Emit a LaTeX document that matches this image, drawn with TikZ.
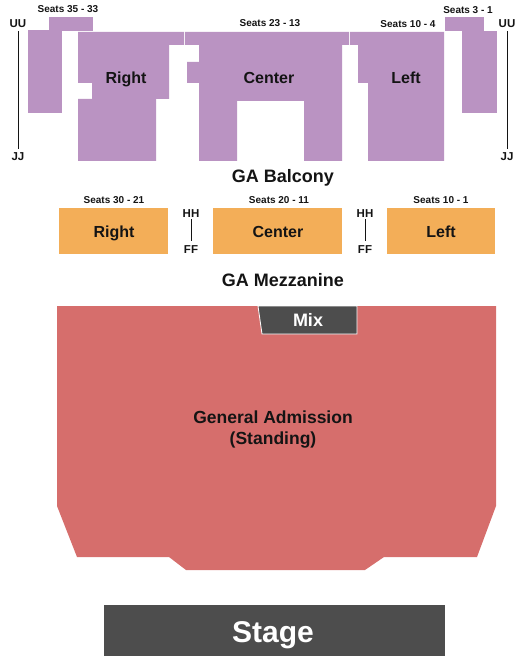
\documentclass[tikz,border=0pt]{standalone}
\usepackage{fontspec}
\setmainfont{Liberation Sans}
\definecolor{balc}{RGB}{186,147,194}
\definecolor{mezz}{RGB}{243,174,88}
\definecolor{ga}{RGB}{214,110,108}
\definecolor{dark}{RGB}{77,77,77}
\definecolor{ink}{RGB}{20,20,20}
\tikzset{
  balcsec/.style={fill=balc,draw=none},
  mezzsec/.style={fill=mezz,draw=none},
  gasec/.style={fill=ga,draw=none},
  darksec/.style={fill=dark,draw=none},
  seatlbl/.style={anchor=base,inner sep=0pt,font=\bfseries\fontsize{10}{12}\selectfont,text=ink},
  rowlbl/.style={anchor=base,inner sep=0pt,font=\bfseries\fontsize{11.5}{13}\selectfont,text=ink},
  seclbl/.style={anchor=base,inner sep=0pt,font=\bfseries\fontsize{16}{19}\selectfont,text=ink},
  arealbl/.style={anchor=base,inner sep=0pt,font=\bfseries\fontsize{18}{21}\selectfont,text=ink},
  rowline/.style={draw=ink,line width=0.7pt},
}
\begin{document}
\begin{tikzpicture}[x=1pt,y=-1pt]
\useasboundingbox (0,0) rectangle (525,668);

% ---------- Balcony ----------
\path[balcsec] (49,17) rectangle (93,31);
\path[balcsec] (28,30) rectangle (62,113);
\path[balcsec] (78,32) -- (184,32) -- (184,45) -- (169,45) -- (169,99) -- (156,99)
  -- (156,161) -- (78,161) -- (78,99) -- (92,99) -- (92,83) -- (78,83) -- cycle;
\path[balcsec] (185,32) -- (349,32) -- (349,45) -- (342,45) -- (342,161) -- (304,161)
  -- (304,101) -- (237,101) -- (237,161) -- (199,161) -- (199,83) -- (187,83)
  -- (187,62) -- (199,62) -- (199,45) -- (185,45) -- cycle;
\path[balcsec] (350,32) -- (444,32) -- (444,161) -- (368,161) -- (368,83) -- (358,83)
  -- (358,45) -- (350,45) -- cycle;
\path[balcsec] (445,17) rectangle (484,31);
\path[balcsec] (462,31) rectangle (497,113);

\node[seatlbl] (s3533) at (68,12.7) {Seats 35 - 33};
\node[seatlbl] (s2313) at (270,26.7) {Seats 23 - 13};
\node[seatlbl] (s104) at (408,27.3) {Seats 10 - 4};
\node[seatlbl] (s31) at (468,13.3) {Seats 3 - 1};

\node[seclbl] (bright) at (126,83.3) {Right};
\node[seclbl] (bcenter) at (269,83.3) {Center};
\node[seclbl] (bleft) at (406,83.3) {Left};

\node[rowlbl] (uuL) at (18,28) {UU};
\node[rowlbl] (jjL) at (18,161) {JJ};
\node[rowlbl] (uuR) at (507,28) {UU};
\node[rowlbl] (jjR) at (507,161) {JJ};
\draw[rowline] ([yshift=-3pt]uuL.south) -- ([yshift=4pt]jjL.north);
\draw[rowline] ([yshift=-3pt]uuR.south) -- ([yshift=4pt]jjR.north);

\node[arealbl] (gabalc) at (283,182.7) {GA Balcony};

% ---------- Mezzanine ----------
\path[mezzsec] (59,208) rectangle (168,254);
\path[mezzsec] (213,208) rectangle (342,254);
\path[mezzsec] (387,208) rectangle (495,254);

\node[seatlbl] (s3021) at (114,203.3) {Seats 30 - 21};
\node[seatlbl] (s2011) at (279,203.3) {Seats 20 - 11};
\node[seatlbl] (s101) at (441,203.3) {Seats 10 - 1};

\node[seclbl] (mright) at (114,237.3) {Right};
\node[seclbl] (mcenter) at (278,237.3) {Center};
\node[seclbl] (mleft) at (441,237.3) {Left};

\node[rowlbl] (hh1) at (191,217) {HH};
\node[rowlbl] (ff1) at (191,253) {FF};
\node[rowlbl] (hh2) at (365,217) {HH};
\node[rowlbl] (ff2) at (365,253) {FF};
\draw[rowline] ([yshift=-2pt]hh1.south) -- ([yshift=4pt]ff1.north);
\draw[rowline] ([yshift=-2pt]hh2.south) -- ([yshift=4pt]ff2.north);

\node[arealbl] (gamezz) at (283,286.7) {GA Mezzanine};

% ---------- General Admission ----------
\path[gasec] (57,306) -- (496,306) -- (496,506) -- (477,557) -- (384,557) -- (365,570)
  -- (186,570) -- (169,557) -- (77,557) -- (57,506) -- cycle;
\path[darksec,draw=white,line width=0.8pt] (258,306) -- (357,306) -- (357,334) -- (262,334) -- cycle;
\node[arealbl,text=white] (mix) at (308,326.7) {Mix};
\node[arealbl,font=\bfseries\fontsize{17.5}{21}\selectfont] (ga1) at (273,423.3) {General Admission};
\node[arealbl,font=\bfseries\fontsize{17.5}{21}\selectfont] (ga2) at (273,444) {(Standing)};

% ---------- Stage ----------
\path[darksec] (104,605) rectangle (445,656);
\node[arealbl,text=white,font=\bfseries\fontsize{30}{34}\selectfont] (stage) at (273,642.3) {Stage};
\end{tikzpicture}
\end{document}
